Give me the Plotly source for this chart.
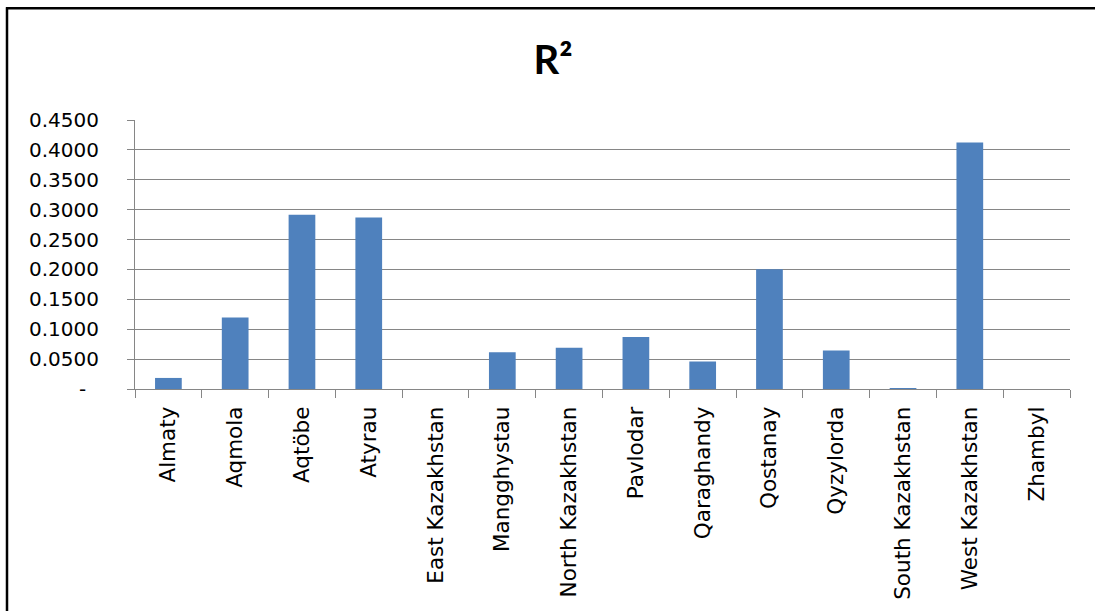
import plotly.graph_objects as go

# Regions of Kazakhstan and their R² values
regions = [
    "Almaty", "Aqmola", "Aqtöbe", "Atyrau", "East Kazakhstan", "Mangghystau",
    "North Kazakhstan", "Pavlodar", "Qaraghandy", "Qostanay", "Qyzylorda",
    "South Kazakhstan", "West Kazakhstan", "Zhambyl",
]
r_squared = [
    0.0185, 0.1195, 0.2915, 0.2870, 0.0000, 0.0615,
    0.0690, 0.0870, 0.0460, 0.2005, 0.0645,
    0.0015, 0.4125, 0.0000,
]

# Y axis ticks, zero shown as a dash (accounting style)
y_ticks = [0.0, 0.05, 0.10, 0.15, 0.20, 0.25, 0.30, 0.35, 0.40, 0.45]
y_tick_text = ["-\u00a0\u00a0"] + [f"{v:.4f}" for v in y_ticks[1:]]

BAR_COLOR = "#4F81BD"
GRID_COLOR = "#868686"
TICK_FONT = "DejaVu Sans"
TITLE_FONT = "Lato"

# Plot area in pixels, used to place the outer frame lines
PLOT_L, PLOT_R, PLOT_T, PLOT_B = 135, 1070, 120, 389.5
PW, PH = PLOT_R - PLOT_L, PLOT_B - PLOT_T


def px_x(px):
    return (px - PLOT_L) / PW


def px_y(py):
    return (PLOT_B - py) / PH


fig = go.Figure(
    go.Bar(
        x=regions,
        y=r_squared,
        marker=dict(color=BAR_COLOR, line=dict(width=0)),
    )
)

fig.update_layout(
    width=1095,
    height=612,
    margin=dict(l=PLOT_L, r=1095 - PLOT_R, t=PLOT_T, b=612 - PLOT_B),
    paper_bgcolor="white",
    plot_bgcolor="white",
    showlegend=False,
    bargap=0.6,
    font=dict(family=TICK_FONT, size=20, color="black"),
    title=dict(
        text="<b>R²</b>",
        x=0.505,
        xanchor="center",
        y=1 - 60 / 612,
        yanchor="middle",
        font=dict(family=TITLE_FONT, size=40, color="black"),
    ),
    xaxis=dict(
        type="category",
        tickangle=-90,
        tickson="boundaries",
        ticks="outside",
        ticklen=8,
        tickcolor=GRID_COLOR,
        ticklabelstandoff=8,
        showline=True,
        linecolor=GRID_COLOR,
        linewidth=1,
        showgrid=False,
        tickfont=dict(family=TICK_FONT, size=21.5, color="black"),
    ),
    yaxis=dict(
        range=[0, 0.45],
        tickvals=y_ticks,
        ticktext=y_tick_text,
        ticks="outside",
        ticklen=7,
        tickcolor=GRID_COLOR,
        ticklabelstandoff=24,
        showline=True,
        linecolor=GRID_COLOR,
        linewidth=1,
        showgrid=True,
        gridcolor=GRID_COLOR,
        gridwidth=1,
        zeroline=False,
        tickfont=dict(family=TICK_FONT, size=20, color="black"),
    ),
    shapes=[
        # outer chart frame: top and left edges
        dict(
            type="line", xref="paper", yref="paper",
            x0=px_x(6), x1=px_x(1095), y0=px_y(8), y1=px_y(8),
            line=dict(color="black", width=2.5), layer="above",
        ),
        dict(
            type="line", xref="paper", yref="paper",
            x0=px_x(7), x1=px_x(7), y0=px_y(7), y1=px_y(612),
            line=dict(color="black", width=2.5), layer="above",
        ),
    ],
)

fig.write_html("out.html")
